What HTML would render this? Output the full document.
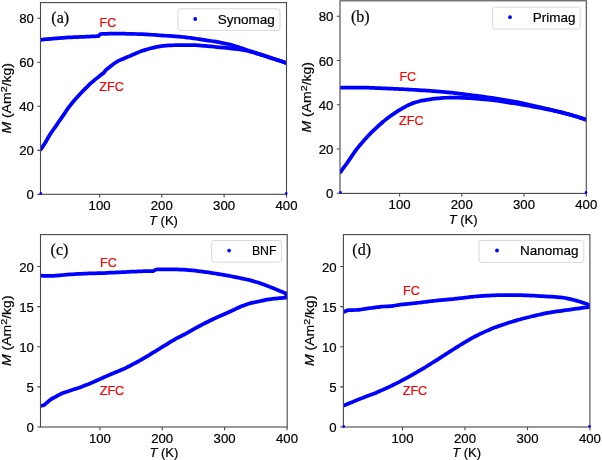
<!DOCTYPE html><html><head><meta charset="utf-8"><style>html,body{margin:0;padding:0;background:#fff;width:602px;height:460px;overflow:hidden}svg{display:block;will-change:transform}text{font-family:"Liberation Sans", sans-serif;stroke:#000;stroke-width:0.2px}.red{stroke:#f00}</style></head><body>
<svg width="602" height="460" viewBox="0 0 602 460">
<rect width="602" height="460" fill="#fff"/>
<clipPath id="ca"><rect x="40.5" y="2.6" width="246" height="191.7"/></clipPath>
<g clip-path="url(#ca)" fill="none" stroke="#0000ff" stroke-width="3.75" stroke-linejoin="round" stroke-linecap="round" style="filter:blur(0.3px)">
<path d="M40.8 149.3C41.1 148.89 42 147.68 42.57 146.86C43.14 146.04 43.71 145.21 44.25 144.36C44.78 143.51 45.29 142.65 45.8 141.78C46.3 140.91 46.78 140.03 47.28 139.15C47.78 138.28 48.27 137.4 48.78 136.54C49.29 135.67 49.81 134.81 50.36 133.97C50.9 133.12 51.46 132.29 52.03 131.46C52.6 130.63 53.19 129.81 53.77 129C54.36 128.18 54.96 127.37 55.54 126.56C56.13 125.74 56.7 124.92 57.27 124.09C57.84 123.26 58.39 122.42 58.95 121.58C59.51 120.75 60.07 119.92 60.65 119.09C61.22 118.27 61.81 117.45 62.38 116.63C62.96 115.81 63.54 114.99 64.1 114.16C64.67 113.33 65.22 112.48 65.78 111.65C66.34 110.81 66.89 109.97 67.46 109.15C68.03 108.32 68.62 107.5 69.21 106.7C69.81 105.89 70.43 105.09 71.06 104.31C71.68 103.52 72.32 102.74 72.97 101.97C73.61 101.2 74.27 100.44 74.93 99.68C75.59 98.92 76.26 98.17 76.93 97.42C77.61 96.67 78.29 95.93 78.97 95.2C79.66 94.46 80.35 93.73 81.05 93.01C81.74 92.28 82.44 91.55 83.14 90.83C83.84 90.11 84.54 89.38 85.25 88.67C85.95 87.95 86.66 87.24 87.38 86.54C88.1 85.83 88.83 85.14 89.56 84.45C90.3 83.77 91.04 83.09 91.8 82.42C92.55 81.76 93.31 81.1 94.09 80.46C94.86 79.81 95.64 79.19 96.43 78.56C97.22 77.93 98.01 77.32 98.81 76.7C99.6 76.08 100.39 75.47 101.18 74.84C101.97 74.21 103 73.36 103.52 72.94C104.04 72.52 104.17 72.41 104.3 72.3L105.4 70.4C105.8 70.09 107 69.18 107.79 68.56C108.58 67.94 109.37 67.32 110.16 66.7C110.95 66.08 111.73 65.45 112.53 64.84C113.32 64.23 114.11 63.61 114.93 63.04C115.75 62.48 116.58 61.93 117.44 61.45C118.3 60.96 119.2 60.54 120.1 60.12C121.01 59.7 121.94 59.34 122.86 58.95C123.78 58.56 124.71 58.18 125.64 57.79C126.56 57.4 127.49 57 128.41 56.6C129.33 56.21 130.25 55.8 131.18 55.41C132.1 55.01 133.02 54.6 133.94 54.21C134.87 53.81 135.79 53.41 136.71 53.02C137.64 52.63 138.57 52.25 139.5 51.88C140.44 51.52 141.38 51.17 142.33 50.83C143.27 50.5 144.22 50.18 145.18 49.87C146.14 49.57 147.1 49.28 148.07 49.01C149.03 48.74 150 48.49 150.98 48.24C151.95 48 152.93 47.77 153.91 47.56C154.89 47.34 155.88 47.13 156.86 46.93C157.85 46.74 158.83 46.55 159.82 46.39C160.81 46.22 161.81 46.07 162.8 45.94C163.8 45.81 164.79 45.71 165.79 45.62C166.79 45.53 167.8 45.47 168.8 45.42C169.8 45.36 170.81 45.33 171.81 45.29C172.81 45.26 173.82 45.24 174.82 45.21C175.83 45.19 176.83 45.17 177.84 45.16C178.84 45.14 179.85 45.13 180.85 45.12C181.86 45.11 182.86 45.11 183.87 45.11C184.87 45.1 185.88 45.1 186.88 45.1C187.89 45.1 188.89 45.1 189.9 45.11C190.9 45.11 191.91 45.12 192.91 45.14C193.92 45.16 194.92 45.2 195.92 45.24C196.93 45.29 197.93 45.36 198.93 45.42C199.93 45.49 200.93 45.58 201.94 45.66C202.94 45.74 203.94 45.83 204.94 45.91C205.94 46 206.94 46.09 207.94 46.18C208.94 46.27 209.95 46.36 210.95 46.46C211.95 46.55 212.95 46.65 213.95 46.75C214.95 46.86 215.95 46.96 216.95 47.06C217.95 47.16 218.95 47.26 219.95 47.36C220.95 47.45 221.95 47.54 222.95 47.63C223.95 47.72 224.95 47.8 225.95 47.9C226.95 47.99 227.95 48.09 228.95 48.19C229.95 48.3 230.95 48.41 231.95 48.52C232.95 48.64 233.95 48.75 234.94 48.87C235.94 48.99 236.94 49.11 237.94 49.24C238.93 49.37 239.93 49.5 240.92 49.65C241.91 49.81 242.9 49.97 243.89 50.16C244.87 50.35 245.85 50.57 246.83 50.79C247.81 51.02 248.78 51.26 249.76 51.51C250.73 51.76 251.7 52.02 252.67 52.29C253.64 52.55 254.6 52.83 255.57 53.11C256.53 53.39 257.5 53.68 258.46 53.97C259.42 54.26 260.38 54.55 261.34 54.85C262.3 55.15 263.26 55.45 264.22 55.76C265.17 56.07 266.13 56.38 267.08 56.69C268.04 57.01 268.99 57.33 269.94 57.65C270.9 57.96 271.85 58.28 272.81 58.59C273.76 58.9 274.72 59.2 275.68 59.5C276.64 59.81 277.6 60.1 278.56 60.41C279.52 60.71 280.47 61.01 281.43 61.32C282.39 61.63 283.5 62 284.29 62.26C285.09 62.53 285.88 62.79 286.2 62.9"/>
<path d="M40.9 39.8C41.4 39.74 42.92 39.57 43.92 39.46C44.93 39.34 45.94 39.23 46.95 39.12C47.96 39.02 48.97 38.91 49.98 38.82C50.99 38.72 52 38.63 53.01 38.55C54.02 38.46 55.03 38.39 56.04 38.31C57.06 38.23 58.07 38.15 59.08 38.08C60.09 38.01 61.1 37.94 62.12 37.87C63.13 37.8 64.14 37.74 65.15 37.67C66.17 37.61 67.18 37.55 68.19 37.49C69.21 37.43 70.22 37.37 71.23 37.31C72.25 37.26 73.26 37.21 74.27 37.16C75.29 37.11 76.3 37.06 77.31 37.01C78.33 36.97 79.34 36.92 80.35 36.88C81.37 36.84 82.38 36.8 83.4 36.76C84.41 36.72 85.42 36.68 86.44 36.64C87.45 36.6 88.47 36.57 89.48 36.53C90.49 36.49 91.51 36.45 92.52 36.41C93.53 36.37 94.55 36.32 95.56 36.27C96.57 36.22 98.09 36.13 98.6 36.1L100.3 34C100.8 33.98 102.3 33.92 103.31 33.88C104.31 33.84 105.31 33.8 106.31 33.77C107.32 33.73 108.32 33.7 109.32 33.67C110.32 33.64 111.33 33.62 112.33 33.6C113.33 33.58 114.33 33.57 115.34 33.57C116.34 33.56 117.34 33.57 118.35 33.58C119.35 33.59 120.35 33.61 121.35 33.63C122.36 33.65 123.36 33.67 124.36 33.69C125.37 33.71 126.37 33.74 127.37 33.76C128.37 33.79 129.38 33.81 130.38 33.84C131.38 33.86 132.38 33.89 133.39 33.92C134.39 33.94 135.39 33.97 136.4 34C137.4 34.03 138.4 34.07 139.4 34.1C140.4 34.14 141.41 34.19 142.41 34.24C143.41 34.29 144.41 34.34 145.41 34.4C146.41 34.45 147.42 34.51 148.42 34.57C149.42 34.63 150.42 34.69 151.42 34.75C152.42 34.81 153.42 34.87 154.42 34.94C155.43 35 156.43 35.06 157.43 35.13C158.43 35.2 159.43 35.27 160.43 35.34C161.43 35.41 162.43 35.48 163.43 35.54C164.43 35.61 165.43 35.68 166.43 35.75C167.43 35.81 168.44 35.88 169.44 35.94C170.44 36.01 171.44 36.07 172.44 36.13C173.44 36.19 174.44 36.25 175.44 36.32C176.44 36.39 177.44 36.46 178.44 36.54C179.44 36.63 180.44 36.72 181.44 36.82C182.43 36.93 183.43 37.05 184.42 37.17C185.42 37.29 186.41 37.42 187.41 37.55C188.4 37.68 189.4 37.81 190.39 37.94C191.39 38.08 192.38 38.21 193.38 38.34C194.37 38.48 195.36 38.62 196.36 38.76C197.35 38.9 198.34 39.05 199.33 39.2C200.33 39.34 201.32 39.49 202.31 39.64C203.3 39.79 204.29 39.94 205.28 40.09C206.28 40.24 207.27 40.39 208.26 40.54C209.25 40.69 210.24 40.84 211.23 41C212.22 41.15 213.22 41.31 214.21 41.47C215.2 41.63 216.19 41.79 217.17 41.96C218.16 42.13 219.15 42.31 220.14 42.49C221.12 42.68 222.1 42.87 223.09 43.07C224.07 43.28 225.05 43.49 226.03 43.71C227 43.93 227.98 44.16 228.95 44.4C229.93 44.64 230.9 44.89 231.87 45.15C232.83 45.42 233.8 45.69 234.76 45.97C235.72 46.26 236.68 46.56 237.63 46.87C238.59 47.17 239.54 47.5 240.49 47.81C241.44 48.13 242.39 48.46 243.34 48.78C244.28 49.11 245.23 49.43 246.18 49.75C247.13 50.08 248.08 50.4 249.04 50.71C249.99 51.03 250.94 51.34 251.89 51.65C252.85 51.96 253.8 52.27 254.76 52.57C255.72 52.88 256.67 53.18 257.63 53.48C258.59 53.78 259.54 54.08 260.5 54.38C261.46 54.68 262.41 54.98 263.37 55.29C264.32 55.6 265.27 55.91 266.22 56.23C267.18 56.55 268.12 56.88 269.07 57.2C270.02 57.52 270.97 57.85 271.92 58.17C272.87 58.49 273.82 58.8 274.78 59.11C275.73 59.42 276.69 59.72 277.65 60.02C278.6 60.33 279.56 60.63 280.51 60.94C281.46 61.26 282.41 61.58 283.36 61.91C284.31 62.23 285.73 62.73 286.2 62.9"/>
</g>
<rect x="40.5" y="2.6" width="246" height="191.7" fill="none" stroke="#474747" stroke-width="1.1"/>
<path d="M37.3 194.4H40.5M37.3 150.35H40.5M37.3 106.3H40.5M37.3 62.25H40.5M37.3 18.2H40.5M99.6 194.3V197.5M161.8 194.3V197.5M224.1 194.3V197.5M286.5 194.3V197.5" stroke="#474747" stroke-width="1.1" fill="none"/>
<circle cx="40.8" cy="193.4" r="1.3" fill="#0000ff"/>
<circle cx="286.3" cy="193.4" r="1.3" fill="#0000ff"/>
<text x="33.8" y="199.4" font-size="13.2" text-anchor="end" fill="#000">0</text>
<text x="33.8" y="155.35" font-size="13.2" text-anchor="end" fill="#000">20</text>
<text x="33.8" y="111.3" font-size="13.2" text-anchor="end" fill="#000">40</text>
<text x="33.8" y="67.25" font-size="13.2" text-anchor="end" fill="#000">60</text>
<text x="33.8" y="23.2" font-size="13.2" text-anchor="end" fill="#000">80</text>
<text x="99.6" y="210" font-size="13.2" text-anchor="middle" fill="#000">100</text>
<text x="161.8" y="210" font-size="13.2" text-anchor="middle" fill="#000">200</text>
<text x="224.1" y="210" font-size="13.2" text-anchor="middle" fill="#000">300</text>
<text x="286.5" y="210" font-size="13.2" text-anchor="middle" fill="#000">400</text>
<text x="163.5" y="225.1" font-size="13.0" text-anchor="middle" fill="#000"><tspan font-style="italic">T</tspan> (K)</text>
<text transform="translate(11 98.3) rotate(-90) scale(1 0.85)" font-size="14.0" text-anchor="middle" fill="#000"><tspan font-style="italic">M</tspan> (Am<tspan font-size="10.8" dy="-4.4">2</tspan><tspan dy="4.4">/kg)</tspan></text>
<rect x="178" y="8.8" width="102" height="21.6" rx="2.2" fill="#fff" stroke="#d9d9d9" stroke-width="1"/>
<circle cx="195.2" cy="19" r="1.9" fill="#0000ff"/>
<text x="217.8" y="23.5" font-size="13.5" fill="#000">Synomag</text>
<text x="51.3" y="23.1" font-size="16" fill="#000" style="font-family:'Liberation Serif', serif">(a)</text>
<text x="99.6" y="26.6" font-size="12.6" fill="#ff0000" class="red">FC</text>
<text x="99.3" y="90.8" font-size="12.6" fill="#ff0000" class="red">ZFC</text>
<clipPath id="cb"><rect x="340" y="0.8" width="246.3" height="192.6"/></clipPath>
<g clip-path="url(#cb)" fill="none" stroke="#0000ff" stroke-width="3.75" stroke-linejoin="round" stroke-linecap="round" style="filter:blur(0.3px)">
<path d="M340.4 172C340.7 171.6 341.62 170.41 342.22 169.61C342.82 168.81 343.43 168.01 344.02 167.2C344.62 166.39 345.21 165.58 345.79 164.77C346.38 163.95 346.95 163.13 347.52 162.31C348.1 161.49 348.66 160.66 349.22 159.83C349.79 159 350.35 158.17 350.91 157.34C351.48 156.51 352.04 155.68 352.61 154.86C353.18 154.03 353.75 153.21 354.33 152.4C354.91 151.58 355.5 150.77 356.11 149.97C356.71 149.17 357.32 148.37 357.94 147.59C358.56 146.8 359.19 146.02 359.82 145.24C360.46 144.47 361.1 143.7 361.75 142.94C362.4 142.17 363.05 141.42 363.72 140.67C364.38 139.92 365.05 139.17 365.73 138.43C366.41 137.7 367.1 136.97 367.79 136.24C368.48 135.51 369.18 134.79 369.88 134.08C370.58 133.36 371.28 132.65 371.99 131.94C372.7 131.23 373.41 130.53 374.14 129.83C374.86 129.13 375.58 128.44 376.31 127.76C377.05 127.08 377.78 126.4 378.53 125.73C379.27 125.06 380.03 124.4 380.78 123.74C381.54 123.08 382.3 122.43 383.07 121.79C383.84 121.15 384.62 120.51 385.4 119.89C386.19 119.27 386.98 118.65 387.78 118.05C388.58 117.45 389.39 116.86 390.2 116.27C391.02 115.69 391.84 115.11 392.66 114.54C393.48 113.97 394.31 113.4 395.14 112.85C395.98 112.29 396.81 111.74 397.66 111.2C398.5 110.66 399.35 110.13 400.21 109.61C401.06 109.09 401.93 108.58 402.8 108.08C403.67 107.58 404.54 107.09 405.42 106.62C406.31 106.15 407.2 105.69 408.09 105.25C408.99 104.81 409.9 104.39 410.82 103.99C411.74 103.6 412.67 103.22 413.61 102.89C414.55 102.55 415.5 102.23 416.46 101.95C417.42 101.67 418.39 101.43 419.36 101.2C420.33 100.97 421.32 100.78 422.3 100.58C423.28 100.39 424.27 100.21 425.25 100.04C426.24 99.86 427.23 99.7 428.22 99.54C429.21 99.38 430.2 99.23 431.19 99.09C432.18 98.95 433.18 98.83 434.17 98.72C435.17 98.61 436.17 98.52 437.16 98.44C438.16 98.35 439.16 98.28 440.16 98.2C441.16 98.12 442.16 98.04 443.16 97.97C444.16 97.89 445.16 97.82 446.16 97.75C447.16 97.69 448.16 97.64 449.16 97.6C450.16 97.56 451.16 97.53 452.16 97.52C453.16 97.5 454.16 97.51 455.17 97.52C456.17 97.54 457.17 97.58 458.17 97.62C459.17 97.66 460.17 97.72 461.17 97.77C462.17 97.82 463.17 97.87 464.17 97.93C465.18 97.98 466.18 98.03 467.18 98.09C468.18 98.14 469.18 98.19 470.18 98.25C471.18 98.3 472.18 98.36 473.18 98.42C474.18 98.48 475.18 98.54 476.18 98.61C477.18 98.67 478.18 98.74 479.18 98.81C480.18 98.88 481.18 98.95 482.18 99.04C483.18 99.12 484.18 99.2 485.18 99.3C486.17 99.39 487.17 99.5 488.17 99.61C489.16 99.72 490.16 99.84 491.15 99.96C492.15 100.08 493.14 100.2 494.14 100.33C495.13 100.46 496.12 100.59 497.12 100.73C498.11 100.87 499.1 101.02 500.09 101.17C501.08 101.31 502.07 101.47 503.07 101.62C504.06 101.77 505.05 101.93 506.04 102.08C507.03 102.24 508.02 102.4 509.01 102.55C510 102.71 510.99 102.87 511.98 103.03C512.97 103.19 513.95 103.35 514.94 103.51C515.93 103.67 516.92 103.83 517.91 104C518.9 104.16 519.89 104.32 520.88 104.49C521.87 104.65 522.86 104.82 523.84 104.99C524.83 105.16 525.82 105.33 526.81 105.5C527.79 105.67 528.78 105.85 529.77 106.03C530.75 106.21 531.74 106.39 532.73 106.57C533.71 106.75 534.7 106.94 535.68 107.12C536.67 107.3 537.65 107.49 538.64 107.67C539.62 107.86 540.61 108.04 541.59 108.23C542.58 108.42 543.56 108.6 544.55 108.79C545.53 108.98 546.52 109.17 547.5 109.36C548.48 109.56 549.47 109.75 550.45 109.95C551.43 110.15 552.41 110.36 553.39 110.57C554.37 110.78 555.35 111 556.33 111.23C557.3 111.45 558.28 111.68 559.25 111.91C560.23 112.14 561.21 112.37 562.18 112.61C563.15 112.85 564.12 113.09 565.09 113.34C566.06 113.59 567.03 113.85 568 114.11C568.97 114.37 569.93 114.64 570.9 114.91C571.86 115.18 572.83 115.45 573.79 115.73C574.75 116.01 575.72 116.29 576.67 116.58C577.63 116.88 578.59 117.18 579.54 117.48C580.5 117.79 581.45 118.11 582.4 118.42C583.35 118.74 584.62 119.17 585.25 119.38C585.88 119.59 586.04 119.65 586.2 119.7"/>
<path d="M340.6 87.6C341.1 87.6 342.61 87.6 343.61 87.6C344.61 87.6 345.61 87.6 346.62 87.6C347.62 87.6 348.62 87.6 349.63 87.6C350.63 87.6 351.63 87.6 352.63 87.6C353.64 87.6 354.64 87.6 355.64 87.6C356.65 87.6 357.65 87.6 358.65 87.6C359.65 87.61 360.66 87.61 361.66 87.62C362.66 87.62 363.66 87.64 364.67 87.65C365.67 87.67 366.67 87.69 367.67 87.72C368.68 87.74 369.68 87.77 370.68 87.8C371.68 87.84 372.69 87.87 373.69 87.9C374.69 87.94 375.69 87.97 376.7 88.01C377.7 88.06 378.7 88.1 379.7 88.15C380.7 88.2 381.7 88.25 382.71 88.3C383.71 88.35 384.71 88.41 385.71 88.46C386.71 88.51 387.71 88.56 388.71 88.6C389.72 88.64 390.72 88.68 391.72 88.72C392.72 88.76 393.72 88.79 394.73 88.82C395.73 88.86 396.73 88.89 397.73 88.94C398.73 88.98 399.74 89.03 400.74 89.08C401.74 89.13 402.74 89.19 403.74 89.25C404.74 89.3 405.74 89.36 406.74 89.42C407.75 89.48 408.75 89.53 409.75 89.59C410.75 89.64 411.75 89.7 412.75 89.75C413.75 89.81 414.76 89.86 415.76 89.92C416.76 89.97 417.76 90.03 418.76 90.09C419.76 90.15 420.76 90.21 421.76 90.28C422.76 90.34 423.76 90.42 424.76 90.49C425.76 90.56 426.76 90.64 427.76 90.71C428.76 90.79 429.76 90.87 430.76 90.95C431.76 91.02 432.76 91.1 433.76 91.18C434.76 91.26 435.76 91.34 436.76 91.43C437.76 91.51 438.76 91.59 439.76 91.68C440.76 91.76 441.76 91.84 442.76 91.93C443.76 92.01 444.76 92.1 445.75 92.18C446.75 92.27 447.75 92.36 448.75 92.45C449.75 92.54 450.75 92.63 451.75 92.72C452.74 92.82 453.74 92.92 454.74 93.04C455.73 93.15 456.73 93.27 457.73 93.39C458.72 93.51 459.71 93.64 460.71 93.77C461.7 93.9 462.7 94.03 463.69 94.16C464.69 94.29 465.68 94.42 466.68 94.55C467.67 94.68 468.66 94.81 469.66 94.93C470.65 95.06 471.65 95.19 472.64 95.32C473.64 95.45 474.63 95.57 475.63 95.7C476.62 95.83 477.62 95.96 478.61 96.09C479.61 96.22 480.6 96.35 481.59 96.48C482.59 96.61 483.58 96.74 484.58 96.88C485.57 97.02 486.56 97.16 487.55 97.3C488.55 97.44 489.54 97.58 490.53 97.73C491.52 97.87 492.52 98.02 493.51 98.17C494.5 98.32 495.49 98.47 496.48 98.63C497.47 98.79 498.46 98.95 499.45 99.12C500.44 99.28 501.43 99.45 502.42 99.62C503.4 99.79 504.39 99.96 505.38 100.13C506.37 100.3 507.36 100.47 508.35 100.64C509.33 100.81 510.32 100.98 511.31 101.15C512.3 101.32 513.29 101.49 514.28 101.66C515.26 101.83 516.25 102.01 517.24 102.19C518.22 102.37 519.21 102.56 520.19 102.77C521.17 102.97 522.15 103.18 523.13 103.4C524.11 103.61 525.08 103.84 526.06 104.06C527.04 104.28 528.02 104.51 528.99 104.73C529.97 104.95 530.95 105.18 531.93 105.4C532.91 105.62 533.88 105.84 534.86 106.06C535.84 106.28 536.82 106.51 537.8 106.73C538.77 106.95 539.75 107.17 540.73 107.4C541.71 107.62 542.68 107.85 543.66 108.07C544.64 108.3 545.62 108.53 546.59 108.75C547.57 108.98 548.55 109.21 549.52 109.44C550.5 109.67 551.47 109.9 552.45 110.14C553.42 110.37 554.4 110.61 555.37 110.85C556.34 111.09 557.32 111.33 558.29 111.57C559.26 111.82 560.24 112.06 561.21 112.31C562.18 112.56 563.15 112.81 564.12 113.06C565.09 113.32 566.06 113.58 567.03 113.84C567.99 114.1 568.96 114.37 569.93 114.64C570.89 114.91 571.86 115.18 572.82 115.45C573.79 115.73 574.75 116.01 575.71 116.29C576.67 116.58 577.63 116.88 578.58 117.18C579.54 117.48 580.49 117.79 581.45 118.11C582.4 118.42 583.51 118.79 584.3 119.06C585.09 119.33 585.88 119.59 586.2 119.7"/>
</g>
<rect x="340" y="0.8" width="246.3" height="192.6" fill="none" stroke="#474747" stroke-width="1.1"/>
<path d="M336.8 193.3H340M336.8 149.05H340M336.8 104.8H340M336.8 60.55H340M336.8 16.3H340M399.6 193.4V196.6M461.8 193.4V196.6M524 193.4V196.6M586.3 193.4V196.6" stroke="#474747" stroke-width="1.1" fill="none"/>
<circle cx="340.5" cy="192.4" r="1.3" fill="#0000ff"/>
<circle cx="586" cy="192.4" r="1.3" fill="#0000ff"/>
<text x="333.4" y="198.3" font-size="13.2" text-anchor="end" fill="#000">0</text>
<text x="333.4" y="154.05" font-size="13.2" text-anchor="end" fill="#000">20</text>
<text x="333.4" y="109.8" font-size="13.2" text-anchor="end" fill="#000">40</text>
<text x="333.4" y="65.55" font-size="13.2" text-anchor="end" fill="#000">60</text>
<text x="333.4" y="21.3" font-size="13.2" text-anchor="end" fill="#000">80</text>
<text x="399.6" y="209.3" font-size="13.2" text-anchor="middle" fill="#000">100</text>
<text x="461.8" y="209.3" font-size="13.2" text-anchor="middle" fill="#000">200</text>
<text x="524" y="209.3" font-size="13.2" text-anchor="middle" fill="#000">300</text>
<text x="586.3" y="209.3" font-size="13.2" text-anchor="middle" fill="#000">400</text>
<text x="463.15" y="224.2" font-size="13.0" text-anchor="middle" fill="#000"><tspan font-style="italic">T</tspan> (K)</text>
<text transform="translate(311 97.3) rotate(-90) scale(1 0.85)" font-size="14.0" text-anchor="middle" fill="#000"><tspan font-style="italic">M</tspan> (Am<tspan font-size="10.8" dy="-4.4">2</tspan><tspan dy="4.4">/kg)</tspan></text>
<rect x="492.6" y="7.2" width="87.6" height="21.8" rx="2.2" fill="#fff" stroke="#d9d9d9" stroke-width="1"/>
<circle cx="510" cy="17.2" r="1.9" fill="#0000ff"/>
<text x="532.8" y="21.6" font-size="13.5" fill="#000">Primag</text>
<text x="351" y="21.5" font-size="16" fill="#000" style="font-family:'Liberation Serif', serif">(b)</text>
<text x="399.4" y="80.9" font-size="12.6" fill="#ff0000" class="red">FC</text>
<text x="399.1" y="124.9" font-size="12.6" fill="#ff0000" class="red">ZFC</text>
<clipPath id="cc"><rect x="40.5" y="234.6" width="246.7" height="192.4"/></clipPath>
<g clip-path="url(#cc)" fill="none" stroke="#0000ff" stroke-width="3.75" stroke-linejoin="round" stroke-linecap="round" style="filter:blur(0.3px)">
<path d="M40.9 405.9C41.38 405.77 42.88 405.53 43.75 405.11C44.62 404.69 45.35 403.98 46.13 403.36C46.9 402.73 47.61 402.01 48.39 401.38C49.16 400.74 49.95 400.12 50.77 399.56C51.6 399 52.47 398.49 53.34 398C54.21 397.5 55.11 397.06 55.99 396.58C56.87 396.1 57.72 395.57 58.61 395.11C59.5 394.64 60.39 394.2 61.3 393.79C62.22 393.38 63.16 393.03 64.09 392.67C65.03 392.31 65.98 391.98 66.92 391.65C67.87 391.32 68.82 391 69.77 390.68C70.72 390.37 71.68 390.06 72.63 389.75C73.58 389.45 74.54 389.14 75.5 388.84C76.45 388.53 77.41 388.24 78.36 387.92C79.31 387.6 80.26 387.27 81.2 386.93C82.14 386.58 83.07 386.22 84.01 385.86C84.94 385.5 85.88 385.15 86.82 384.79C87.75 384.43 88.7 384.08 89.62 383.7C90.55 383.33 91.47 382.92 92.38 382.52C93.3 382.11 94.21 381.69 95.13 381.28C96.04 380.87 96.95 380.46 97.87 380.05C98.78 379.63 99.7 379.22 100.61 378.81C101.53 378.4 102.44 377.99 103.36 377.58C104.27 377.17 105.18 376.76 106.1 376.35C107.01 375.94 107.93 375.52 108.84 375.12C109.76 374.72 110.68 374.33 111.61 373.94C112.53 373.55 113.46 373.17 114.39 372.79C115.31 372.4 116.24 372.02 117.17 371.64C118.09 371.25 119.02 370.87 119.95 370.49C120.87 370.11 121.8 369.73 122.73 369.34C123.65 368.94 124.57 368.56 125.47 368.12C126.38 367.69 127.26 367.21 128.14 366.74C129.03 366.28 129.92 365.81 130.81 365.34C131.69 364.88 132.58 364.41 133.47 363.94C134.35 363.47 135.24 363.01 136.13 362.54C137.01 362.07 137.91 361.62 138.79 361.13C139.67 360.65 140.54 360.16 141.4 359.65C142.27 359.15 143.12 358.63 143.98 358.11C144.84 357.59 145.7 357.08 146.56 356.56C147.42 356.05 148.28 355.53 149.14 355.02C150 354.5 150.86 353.98 151.72 353.47C152.58 352.95 153.44 352.44 154.3 351.92C155.15 351.4 156.01 350.87 156.86 350.35C157.71 349.82 158.56 349.29 159.42 348.76C160.27 348.23 161.12 347.7 161.97 347.18C162.83 346.65 163.68 346.12 164.53 345.59C165.39 345.07 166.24 344.55 167.1 344.03C167.96 343.51 168.82 343 169.67 342.48C170.53 341.96 171.39 341.44 172.25 340.92C173.11 340.41 173.96 339.87 174.83 339.38C175.7 338.88 176.58 338.41 177.47 337.94C178.35 337.47 179.25 337.02 180.14 336.56C181.03 336.11 181.93 335.65 182.82 335.19C183.71 334.73 184.61 334.28 185.49 333.81C186.37 333.34 187.25 332.85 188.13 332.37C189 331.88 189.87 331.38 190.74 330.88C191.62 330.39 192.49 329.9 193.36 329.4C194.23 328.91 195.1 328.41 195.98 327.92C196.86 327.44 197.74 326.96 198.62 326.49C199.51 326.02 200.4 325.55 201.28 325.08C202.17 324.62 203.06 324.15 203.94 323.68C204.83 323.21 205.71 322.73 206.6 322.28C207.5 321.83 208.4 321.39 209.3 320.96C210.21 320.53 211.12 320.11 212.03 319.68C212.94 319.26 213.84 318.83 214.75 318.41C215.66 317.99 216.57 317.56 217.48 317.14C218.39 316.73 219.31 316.32 220.23 315.92C221.15 315.52 222.07 315.12 222.99 314.72C223.91 314.32 224.83 313.93 225.74 313.53C226.66 313.13 227.59 312.73 228.5 312.32C229.41 311.91 230.32 311.48 231.23 311.05C232.14 310.63 233.04 310.2 233.95 309.77C234.85 309.34 235.76 308.91 236.67 308.49C237.58 308.07 238.48 307.63 239.4 307.23C240.32 306.84 241.25 306.47 242.19 306.11C243.12 305.74 244.05 305.37 244.99 305.02C245.93 304.68 246.88 304.35 247.83 304.04C248.79 303.73 249.74 303.43 250.71 303.17C251.68 302.91 252.66 302.72 253.64 302.51C254.62 302.29 255.6 302.08 256.58 301.87C257.56 301.65 258.54 301.44 259.52 301.23C260.5 301.01 261.48 300.8 262.46 300.59C263.44 300.38 264.41 300.15 265.4 299.95C266.38 299.76 267.37 299.58 268.35 299.43C269.34 299.27 270.34 299.16 271.34 299.03C272.33 298.9 273.32 298.76 274.32 298.64C275.31 298.52 276.31 298.4 277.31 298.31C278.3 298.22 279.3 298.15 280.3 298.07C281.3 297.99 282.3 297.91 283.3 297.84C284.3 297.76 285.8 297.64 286.3 297.6L286.3 297.6C286.3 296.93 286.3 294.27 286.3 293.6"/>
<path d="M40.9 275.6C41.4 275.64 42.9 275.8 43.9 275.86C44.9 275.92 45.9 275.95 46.9 275.96C47.91 275.97 48.91 275.94 49.92 275.92C50.92 275.9 51.93 275.87 52.93 275.83C53.94 275.79 54.95 275.76 55.95 275.7C56.95 275.64 57.95 275.57 58.95 275.48C59.95 275.4 60.95 275.28 61.95 275.17C62.95 275.07 63.95 274.95 64.95 274.85C65.95 274.76 66.96 274.67 67.96 274.59C68.96 274.51 69.97 274.43 70.97 274.36C71.98 274.29 72.98 274.23 73.99 274.17C74.99 274.1 76 274.05 77 273.99C78.01 273.94 79.02 273.89 80.02 273.84C81.03 273.79 82.03 273.74 83.04 273.7C84.05 273.65 85.05 273.61 86.06 273.58C87.07 273.54 88.07 273.51 89.08 273.49C90.09 273.46 91.1 273.43 92.1 273.4C93.11 273.37 94.12 273.35 95.12 273.32C96.13 273.29 97.14 273.26 98.14 273.23C99.15 273.19 100.16 273.16 101.16 273.12C102.17 273.09 103.18 273.05 104.18 273.01C105.19 272.97 106.2 272.92 107.2 272.88C108.21 272.83 109.22 272.78 110.22 272.73C111.23 272.68 112.23 272.63 113.24 272.58C114.25 272.53 115.25 272.48 116.26 272.43C117.26 272.38 118.27 272.33 119.28 272.29C120.28 272.24 121.29 272.2 122.3 272.16C123.3 272.11 124.31 272.07 125.32 272.02C126.32 271.98 127.33 271.93 128.33 271.89C129.34 271.84 130.35 271.79 131.35 271.74C132.36 271.69 133.36 271.64 134.37 271.59C135.38 271.54 136.38 271.49 137.39 271.44C138.4 271.4 139.4 271.36 140.41 271.32C141.42 271.29 142.42 271.26 143.43 271.23C144.44 271.2 145.44 271.18 146.45 271.16C147.46 271.13 148.46 271.11 149.47 271.09C150.48 271.07 151.82 271.04 152.49 271.02C153.16 271.01 153.33 271 153.5 271L156 269.5C156.5 269.48 158.01 269.42 159.01 269.39C160.02 269.36 161.02 269.33 162.02 269.31C163.03 269.3 164.03 269.29 165.04 269.3C166.04 269.3 167.05 269.32 168.05 269.34C169.05 269.35 170.06 269.38 171.06 269.39C172.07 269.41 173.07 269.42 174.08 269.43C175.08 269.45 176.09 269.45 177.09 269.47C178.1 269.49 179.1 269.51 180.1 269.55C181.11 269.58 182.11 269.63 183.11 269.69C184.12 269.75 185.12 269.82 186.12 269.9C187.12 269.98 188.12 270.06 189.12 270.15C190.12 270.24 191.12 270.33 192.12 270.43C193.12 270.53 194.12 270.63 195.12 270.74C196.12 270.85 197.12 270.97 198.12 271.09C199.11 271.2 200.11 271.33 201.11 271.45C202.11 271.57 203.1 271.7 204.1 271.83C205.1 271.96 206.09 272.1 207.09 272.23C208.08 272.37 209.08 272.52 210.07 272.66C211.06 272.81 212.06 272.95 213.05 273.11C214.05 273.26 215.04 273.41 216.03 273.57C217.02 273.73 218.01 273.9 219 274.07C219.99 274.24 220.98 274.42 221.97 274.59C222.96 274.77 223.95 274.95 224.94 275.13C225.93 275.31 226.91 275.49 227.9 275.67C228.89 275.86 229.88 276.04 230.87 276.23C231.85 276.42 232.84 276.6 233.83 276.8C234.81 276.99 235.8 277.19 236.78 277.39C237.77 277.59 238.75 277.79 239.74 277.99C240.72 278.2 241.7 278.4 242.69 278.61C243.67 278.82 244.65 279.04 245.63 279.25C246.61 279.47 247.59 279.69 248.57 279.92C249.55 280.15 250.52 280.39 251.5 280.64C252.47 280.89 253.44 281.15 254.41 281.43C255.37 281.7 256.34 281.98 257.29 282.28C258.25 282.58 259.21 282.89 260.16 283.21C261.11 283.53 262.06 283.87 263 284.21C263.94 284.56 264.88 284.92 265.82 285.28C266.76 285.64 267.69 286.01 268.63 286.38C269.56 286.75 270.49 287.12 271.43 287.5C272.36 287.87 273.29 288.25 274.22 288.63C275.15 289.01 276.08 289.39 277.01 289.78C277.94 290.16 278.87 290.54 279.79 290.92C280.72 291.31 281.65 291.69 282.58 292.07C283.51 292.45 284.75 292.96 285.37 293.22C285.99 293.47 286.15 293.54 286.3 293.6"/>
</g>
<rect x="40.5" y="234.6" width="246.7" height="192.4" fill="none" stroke="#474747" stroke-width="1.1"/>
<path d="M37.3 427H40.5M37.3 386.88H40.5M37.3 346.75H40.5M37.3 306.62H40.5M37.3 266.5H40.5M99.9 427V430.2M162.2 427V430.2M224.6 427V430.2M287 427V430.2" stroke="#474747" stroke-width="1.1" fill="none"/>
<text x="33.8" y="432" font-size="13.2" text-anchor="end" fill="#000">0</text>
<text x="33.8" y="391.88" font-size="13.2" text-anchor="end" fill="#000">5</text>
<text x="33.8" y="351.75" font-size="13.2" text-anchor="end" fill="#000">10</text>
<text x="33.8" y="311.62" font-size="13.2" text-anchor="end" fill="#000">15</text>
<text x="33.8" y="271.5" font-size="13.2" text-anchor="end" fill="#000">20</text>
<text x="99.9" y="443" font-size="13.2" text-anchor="middle" fill="#000">100</text>
<text x="162.2" y="443" font-size="13.2" text-anchor="middle" fill="#000">200</text>
<text x="224.6" y="443" font-size="13.2" text-anchor="middle" fill="#000">300</text>
<text x="287" y="443" font-size="13.2" text-anchor="middle" fill="#000">400</text>
<text x="163.85" y="457.2" font-size="13.0" text-anchor="middle" fill="#000"><tspan font-style="italic">T</tspan> (K)</text>
<text transform="translate(11 330.7) rotate(-90) scale(1 0.85)" font-size="14.0" text-anchor="middle" fill="#000"><tspan font-style="italic">M</tspan> (Am<tspan font-size="10.8" dy="-4.4">2</tspan><tspan dy="4.4">/kg)</tspan></text>
<rect x="211.7" y="240.5" width="69.8" height="21.7" rx="2.2" fill="#fff" stroke="#d9d9d9" stroke-width="1"/>
<circle cx="229.1" cy="250.6" r="1.9" fill="#0000ff"/>
<text x="251.9" y="254.8" font-size="13.5" fill="#000" textLength="24.6" lengthAdjust="spacingAndGlyphs">BNF</text>
<text x="50.6" y="255" font-size="16" fill="#000" style="font-family:'Liberation Serif', serif">(c)</text>
<text x="100" y="266.6" font-size="12.6" fill="#ff0000" class="red">FC</text>
<text x="99.7" y="394.8" font-size="12.6" fill="#ff0000" class="red">ZFC</text>
<clipPath id="cd"><rect x="343.4" y="234.6" width="246.5" height="192.4"/></clipPath>
<g clip-path="url(#cd)" fill="none" stroke="#0000ff" stroke-width="3.75" stroke-linejoin="round" stroke-linecap="round" style="filter:blur(0.3px)">
<path d="M343.6 405.6C344.07 405.41 345.46 404.85 346.39 404.48C347.32 404.1 348.25 403.72 349.18 403.34C350.11 402.96 351.03 402.57 351.96 402.19C352.89 401.8 353.81 401.42 354.74 401.03C355.67 400.65 356.59 400.26 357.52 399.88C358.45 399.5 359.38 399.13 360.31 398.76C361.25 398.39 362.18 398.03 363.12 397.67C364.06 397.31 365 396.96 365.94 396.61C366.88 396.26 367.82 395.92 368.76 395.57C369.7 395.22 370.64 394.87 371.58 394.51C372.52 394.15 373.45 393.78 374.38 393.41C375.31 393.04 376.24 392.65 377.17 392.27C378.09 391.88 379.01 391.49 379.93 391.09C380.85 390.69 381.77 390.28 382.69 389.87C383.6 389.46 384.52 389.05 385.43 388.63C386.34 388.22 387.25 387.79 388.16 387.37C389.07 386.94 389.97 386.5 390.88 386.07C391.78 385.63 392.68 385.2 393.59 384.76C394.49 384.31 395.39 383.87 396.28 383.42C397.18 382.97 398.07 382.51 398.96 382.05C399.85 381.59 400.74 381.12 401.63 380.65C402.51 380.18 403.4 379.71 404.28 379.23C405.17 378.76 406.05 378.29 406.94 377.81C407.82 377.33 408.7 376.85 409.58 376.37C410.46 375.89 411.33 375.4 412.21 374.9C413.08 374.41 413.95 373.91 414.82 373.41C415.69 372.91 416.56 372.41 417.43 371.9C418.29 371.4 419.16 370.89 420.02 370.38C420.88 369.86 421.75 369.35 422.61 368.83C423.46 368.31 424.32 367.79 425.18 367.27C426.04 366.75 426.89 366.23 427.75 365.71C428.61 365.18 429.46 364.66 430.32 364.13C431.17 363.61 432.02 363.08 432.87 362.54C433.72 362.01 434.57 361.47 435.41 360.93C436.26 360.39 437.1 359.84 437.94 359.3C438.79 358.75 439.63 358.21 440.47 357.66C441.31 357.11 442.15 356.57 442.99 356.02C443.84 355.47 444.68 354.93 445.52 354.38C446.36 353.84 447.21 353.3 448.05 352.76C448.9 352.22 449.75 351.68 450.59 351.14C451.44 350.6 452.29 350.06 453.14 349.53C453.98 348.99 454.83 348.45 455.68 347.92C456.53 347.38 457.38 346.85 458.23 346.32C459.08 345.78 459.93 345.26 460.79 344.73C461.64 344.21 462.5 343.69 463.37 343.18C464.23 342.67 465.09 342.16 465.96 341.65C466.83 341.15 467.69 340.64 468.56 340.14C469.43 339.64 470.3 339.14 471.18 338.65C472.05 338.15 472.93 337.67 473.81 337.19C474.69 336.71 475.58 336.24 476.47 335.77C477.36 335.31 478.25 334.86 479.15 334.41C480.05 333.97 480.95 333.53 481.86 333.1C482.76 332.67 483.67 332.25 484.58 331.83C485.5 331.41 486.41 331 487.33 330.6C488.25 330.19 489.17 329.8 490.1 329.41C491.02 329.02 491.95 328.64 492.88 328.27C493.81 327.89 494.75 327.53 495.68 327.17C496.62 326.82 497.56 326.47 498.51 326.13C499.45 325.8 500.4 325.47 501.35 325.14C502.3 324.81 503.25 324.49 504.2 324.18C505.15 323.86 506.11 323.54 507.06 323.24C508.02 322.93 508.97 322.63 509.93 322.33C510.89 322.03 511.85 321.74 512.81 321.46C513.77 321.17 514.74 320.9 515.7 320.62C516.67 320.34 517.63 320.07 518.6 319.8C519.56 319.52 520.53 319.25 521.5 318.99C522.47 318.72 523.43 318.46 524.4 318.21C525.38 317.96 526.35 317.71 527.32 317.47C528.3 317.22 529.27 316.99 530.25 316.76C531.22 316.52 532.2 316.3 533.18 316.07C534.15 315.84 535.13 315.61 536.11 315.38C537.09 315.16 538.06 314.93 539.04 314.71C540.02 314.49 541 314.27 541.98 314.07C542.96 313.86 543.95 313.65 544.93 313.46C545.92 313.26 546.9 313.08 547.89 312.9C548.88 312.72 549.86 312.55 550.85 312.38C551.84 312.22 552.83 312.06 553.83 311.91C554.82 311.76 555.81 311.62 556.8 311.47C557.8 311.33 558.79 311.19 559.78 311.04C560.78 310.9 561.77 310.75 562.76 310.61C563.76 310.47 564.75 310.33 565.74 310.19C566.74 310.05 567.73 309.92 568.73 309.78C569.72 309.65 570.71 309.51 571.71 309.37C572.7 309.24 573.7 309.1 574.69 308.95C575.68 308.81 576.68 308.67 577.67 308.52C578.66 308.38 579.66 308.24 580.65 308.1C581.64 307.97 582.64 307.83 583.63 307.7C584.63 307.56 585.62 307.43 586.62 307.3C587.61 307.17 589.1 306.97 589.6 306.9"/>
<path d="M343.6 312.1C344.02 311.9 345.24 311.2 346.12 310.89C346.99 310.57 347.9 310.34 348.84 310.2C349.78 310.05 350.76 310.05 351.74 310.02C352.72 309.99 353.73 310.03 354.72 310C355.71 309.97 356.7 309.93 357.69 309.84C358.68 309.76 359.67 309.62 360.66 309.49C361.65 309.36 362.64 309.19 363.63 309.05C364.62 308.9 365.61 308.74 366.6 308.6C367.59 308.46 368.58 308.32 369.57 308.18C370.56 308.04 371.56 307.9 372.55 307.77C373.54 307.64 374.53 307.51 375.53 307.39C376.52 307.27 377.52 307.16 378.51 307.05C379.51 306.94 380.5 306.83 381.5 306.74C382.49 306.65 383.49 306.56 384.48 306.5C385.47 306.43 386.46 306.41 387.44 306.36C388.42 306.3 389.39 306.28 390.36 306.18C391.33 306.09 392.28 305.95 393.24 305.79C394.21 305.64 395.17 305.44 396.15 305.27C397.12 305.11 398.11 304.95 399.09 304.82C400.08 304.68 401.07 304.56 402.07 304.45C403.06 304.34 404.06 304.23 405.05 304.13C406.05 304.03 407.05 303.94 408.04 303.84C409.04 303.74 410.04 303.65 411.03 303.55C412.03 303.45 413.03 303.36 414.02 303.25C415.02 303.14 416.01 303.03 417.01 302.92C418 302.8 419 302.68 419.99 302.56C420.98 302.44 421.98 302.31 422.97 302.18C423.96 302.06 424.96 301.93 425.95 301.81C426.94 301.69 427.94 301.57 428.93 301.45C429.93 301.33 430.92 301.21 431.92 301.1C432.91 300.99 433.91 300.87 434.9 300.76C435.9 300.65 436.89 300.54 437.89 300.44C438.88 300.34 439.88 300.24 440.88 300.14C441.87 300.04 442.87 299.95 443.87 299.86C444.86 299.77 445.86 299.69 446.86 299.6C447.86 299.51 448.85 299.42 449.85 299.32C450.85 299.23 451.84 299.13 452.84 299.03C453.84 298.93 454.83 298.82 455.83 298.71C456.82 298.6 457.82 298.49 458.81 298.38C459.81 298.26 460.8 298.15 461.8 298.03C462.79 297.91 463.78 297.79 464.78 297.67C465.77 297.55 466.77 297.43 467.76 297.31C468.75 297.19 469.75 297.08 470.74 296.97C471.74 296.86 472.73 296.76 473.73 296.66C474.73 296.56 475.72 296.46 476.72 296.37C477.72 296.28 478.72 296.19 479.71 296.11C480.71 296.03 481.71 295.95 482.71 295.88C483.71 295.81 484.71 295.76 485.71 295.7C486.71 295.64 487.71 295.59 488.71 295.54C489.71 295.49 490.71 295.45 491.71 295.41C492.71 295.37 493.71 295.33 494.71 295.3C495.71 295.27 496.71 295.25 497.71 295.23C498.71 295.21 499.71 295.19 500.71 295.18C501.71 295.16 502.72 295.15 503.72 295.14C504.72 295.12 505.72 295.12 506.72 295.11C507.72 295.11 508.72 295.1 509.72 295.1C510.73 295.1 511.73 295.1 512.73 295.11C513.73 295.11 514.73 295.12 515.73 295.13C516.73 295.14 517.73 295.15 518.74 295.17C519.74 295.19 520.74 295.21 521.74 295.24C522.74 295.26 523.74 295.29 524.74 295.32C525.74 295.35 526.74 295.39 527.74 295.43C528.74 295.47 529.74 295.51 530.74 295.56C531.74 295.61 532.74 295.67 533.74 295.72C534.74 295.78 535.74 295.84 536.74 295.89C537.74 295.95 538.74 296.01 539.74 296.07C540.74 296.13 541.74 296.19 542.74 296.24C543.74 296.29 544.74 296.34 545.74 296.39C546.74 296.43 547.74 296.47 548.74 296.51C549.74 296.55 550.74 296.58 551.74 296.63C552.74 296.68 553.74 296.73 554.74 296.79C555.74 296.86 556.73 296.95 557.73 297.04C558.73 297.14 559.72 297.24 560.71 297.36C561.71 297.49 562.7 297.62 563.69 297.77C564.67 297.93 565.66 298.11 566.64 298.3C567.62 298.5 568.59 298.72 569.57 298.94C570.54 299.17 571.52 299.41 572.49 299.65C573.46 299.9 574.42 300.15 575.39 300.41C576.35 300.68 577.32 300.95 578.28 301.23C579.24 301.52 580.2 301.8 581.15 302.1C582.11 302.41 583.06 302.71 584 303.04C584.94 303.37 585.88 303.72 586.81 304.08C587.75 304.44 589.14 305.01 589.6 305.2"/>
</g>
<rect x="343.4" y="234.6" width="246.5" height="192.4" fill="none" stroke="#474747" stroke-width="1.1"/>
<path d="M340.2 427H343.4M340.2 386.88H343.4M340.2 346.75H343.4M340.2 306.62H343.4M340.2 266.5H343.4M402.5 427V430.2M465 427V430.2M527.5 427V430.2M589.9 427V430.2" stroke="#474747" stroke-width="1.1" fill="none"/>
<circle cx="343.7" cy="426.4" r="1.3" fill="#0000ff"/>
<circle cx="589.6" cy="426.2" r="1.3" fill="#0000ff"/>
<text x="336.6" y="432" font-size="13.2" text-anchor="end" fill="#000">0</text>
<text x="336.6" y="391.88" font-size="13.2" text-anchor="end" fill="#000">5</text>
<text x="336.6" y="351.75" font-size="13.2" text-anchor="end" fill="#000">10</text>
<text x="336.6" y="311.62" font-size="13.2" text-anchor="end" fill="#000">15</text>
<text x="336.6" y="271.5" font-size="13.2" text-anchor="end" fill="#000">20</text>
<text x="402.5" y="443" font-size="13.2" text-anchor="middle" fill="#000">100</text>
<text x="465" y="443" font-size="13.2" text-anchor="middle" fill="#000">200</text>
<text x="527.5" y="443" font-size="13.2" text-anchor="middle" fill="#000">300</text>
<text x="589.9" y="443" font-size="13.2" text-anchor="middle" fill="#000">400</text>
<text x="466.65" y="457.2" font-size="13.0" text-anchor="middle" fill="#000"><tspan font-style="italic">T</tspan> (K)</text>
<text transform="translate(314.2 330.7) rotate(-90) scale(1 0.85)" font-size="14.0" text-anchor="middle" fill="#000"><tspan font-style="italic">M</tspan> (Am<tspan font-size="10.8" dy="-4.4">2</tspan><tspan dy="4.4">/kg)</tspan></text>
<rect x="479.1" y="240.4" width="104.7" height="22" rx="2.2" fill="#fff" stroke="#d9d9d9" stroke-width="1"/>
<circle cx="497" cy="250.5" r="1.9" fill="#0000ff"/>
<text x="520.1" y="254.8" font-size="13.5" fill="#000">Nanomag</text>
<text x="352.3" y="254.5" font-size="16" fill="#000" style="font-family:'Liberation Serif', serif">(d)</text>
<text x="403" y="294.5" font-size="12.6" fill="#ff0000" class="red">FC</text>
<text x="402.7" y="394.8" font-size="12.6" fill="#ff0000" class="red">ZFC</text>
</svg></body></html>
